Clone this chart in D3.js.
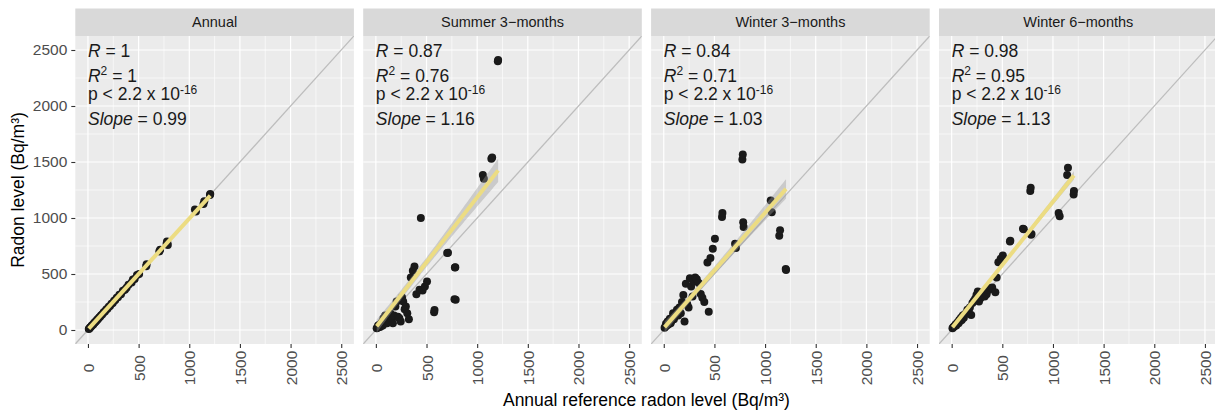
<!DOCTYPE html>
<html>
<head>
<meta charset="utf-8">
<script src="https://cdn.jsdelivr.net/npm/d3@7"></script>
<style>
  html, body { margin: 0; padding: 0; background: #ffffff; }
  svg { display: block; font-family: "Liberation Sans", Arial, sans-serif; }
</style>
</head>
<body>
<svg id="chart" width="1215" height="412"></svg>
<script>
// Annual reference radon level per dwelling (Bq/m³)
const annualRef = [8, 15, 22, 30, 38, 45, 52, 60, 68, 75, 84, 92, 100, 110, 120, 130, 142, 155, 168, 180,
  193, 205, 218, 232, 245, 258, 270, 284, 296, 310, 326, 345, 365, 381, 400, 431, 444, 461, 484, 505,
  575, 579, 704, 712, 776, 780, 784, 788, 1056, 1066, 1140, 1148, 1204, 1207];

// Measured radon level for each measurement period (same dwelling order)
const annualLevel = [10, 14, 24, 28, 40, 44, 50, 62, 66, 76, 82, 94, 98, 112, 118, 132, 140, 158, 165, 182,
  190, 208, 215, 235, 242, 262, 268, 288, 292, 315, 320, 350, 360, 378, 405, 425, 450, 455, 490, 500,
  570, 588, 702, 717, 770, 791, 777, 760, 1075, 1058, 1125, 1150, 1205, 1215];
const summer3Level = [15, 20, 40, 25, 50, 30, 55, 70, 40, 105, 75, 130, 90, 60, 110, 75, 150, 100, 60, 130,
  210, 254, 119, 105, 75, 293, 254, 185, 209, 150, 96, 469, 528, 567, 320, 360, 1000, 352, 388, 433,
  158, 179, 687, 690, 275, 558, 560, 270, 1383, 1350, 1530, 1540, 2400, 2410];
const winter3Level = [20, 30, 55, 40, 75, 50, 70, 100, 60, 80, 110, 150, 95, 120, 140, 180, 130, 200, 150, 250,
  313, 75, 412, 230, 200, 463, 388, 300, 433, 469, 454, 420, 322, 288, 250, 603, 164, 642, 726, 815,
  1010, 1045, 770, 732, 1523, 1568, 961, 920, 1156, 1051, 842, 890, 545, 535];
const winter6Level = [15, 25, 30, 35, 50, 40, 60, 70, 60, 90, 80, 110, 90, 130, 110, 140, 150, 180, 170, 200,
  134, 240, 260, 280, 313, 343, 254, 284, 300, 330, 300, 320, 358, 376, 380, 338, 469, 606, 636, 666,
  790, 797, 905, 900, 1240, 1270, 851, 858, 1045, 1015, 1383, 1449, 1210, 1240];

// Facet titles and fitted statistics
const periods = ["Annual", "Summer 3\u2212months", "Winter 3\u2212months", "Winter 6\u2212months"];
const levels = [annualLevel, summer3Level, winter3Level, winter6Level];
const rValues = ["1", "0.87", "0.84", "0.98"];
const r2Values = ["1", "0.76", "0.71", "0.95"];
const slopes = [0.99, 1.16, 1.03, 1.13];
const intercepts = [5, 25, 17, 16];

// Axis ticks
const tickValues = [0, 500, 1000, 1500, 2000, 2500];
const minorTicks = [250, 750, 1250, 1750, 2250];

const svg = d3.select("#chart");

const panelLeft = 75.3, panelStep = 287.9, panelW = 278.6;
const stripTop = 8.5, stripH = 27.5, panelTop = 36, panelH = 308;

const x = d3.scaleLinear().domain([-125, 2625]).range([0, panelW]);
const y = d3.scaleLinear().domain([-125, 2625]).range([panelH, 0]);

const defs = svg.append("defs");
defs.append("clipPath").attr("id", "panel-clip")
  .append("rect").attr("width", panelW).attr("height", panelH);

periods.forEach((title, i) => {
  const left = panelLeft + i * panelStep;
  const yVals = levels[i];
  const pts = annualRef.map((v, k) => [v, yVals[k]]);

  // strip
  const strip = svg.append("g").attr("transform", `translate(${left},${stripTop})`);
  strip.append("rect").attr("width", panelW).attr("height", stripH).attr("fill", "#D9D9D9");
  strip.append("text")
    .attr("x", panelW / 2).attr("y", stripH / 2)
    .attr("text-anchor", "middle").attr("dominant-baseline", "central")
    .attr("font-size", 14.5).attr("fill", "#1A1A1A")
    .text(title);

  const g = svg.append("g").attr("transform", `translate(${left},${panelTop})`);
  g.append("rect").attr("width", panelW).attr("height", panelH).attr("fill", "#EBEBEB");

  // grid
  minorTicks.forEach(t => {
    g.append("line").attr("x1", x(t)).attr("x2", x(t)).attr("y1", 0).attr("y2", panelH)
      .attr("stroke", "#FFFFFF").attr("stroke-width", 0.6);
    g.append("line").attr("y1", y(t)).attr("y2", y(t)).attr("x1", 0).attr("x2", panelW)
      .attr("stroke", "#FFFFFF").attr("stroke-width", 0.6);
  });
  tickValues.forEach(t => {
    g.append("line").attr("x1", x(t)).attr("x2", x(t)).attr("y1", 0).attr("y2", panelH)
      .attr("stroke", "#FFFFFF").attr("stroke-width", 1.2);
    g.append("line").attr("y1", y(t)).attr("y2", y(t)).attr("x1", 0).attr("x2", panelW)
      .attr("stroke", "#FFFFFF").attr("stroke-width", 1.2);
  });

  const inner = g.append("g").attr("clip-path", "url(#panel-clip)");

  // 1:1 reference line
  inner.append("line")
    .attr("x1", x(-125)).attr("y1", y(-125)).attr("x2", x(2625)).attr("y2", y(2625))
    .attr("stroke", "#BDBDBD").attr("stroke-width", 1.3);

  // observations
  inner.selectAll("circle.obs").data(pts).join("circle")
    .attr("class", "obs")
    .attr("cx", d => x(d[0])).attr("cy", d => y(d[1])).attr("r", 4)
    .attr("fill", "#1A1A1A");

  // linear fit with standard-error band
  const b = slopes[i], a = intercepts[i];
  const n = pts.length;
  const xMean = d3.mean(annualRef);
  const sxx = d3.sum(annualRef, v => (v - xMean) ** 2);
  const s = Math.sqrt(d3.sum(pts, d => (d[1] - (a + b * d[0])) ** 2) / (n - 2));
  const xMin = d3.min(annualRef), xMax = d3.max(annualRef);
  const grid = d3.range(0, 81).map(k => xMin + (xMax - xMin) * k / 80);
  const band = grid.map(v => {
    const fit = a + b * v;
    const se = s * Math.sqrt(1 / n + (v - xMean) ** 2 / sxx);
    return { v, lo: fit - se, hi: fit + se };
  });
  inner.append("path").datum(band)
    .attr("d", d3.area().x(d => x(d.v)).y0(d => y(d.lo)).y1(d => y(d.hi)))
    .attr("fill", "#999999").attr("fill-opacity", 0.4);
  inner.append("line")
    .attr("x1", x(xMin)).attr("y1", y(a + b * xMin))
    .attr("x2", x(xMax)).attr("y2", y(a + b * xMax))
    .attr("stroke", "#ECDC82").attr("stroke-width", 4).attr("stroke-linecap", "butt");

  // statistics text
  const tx = x(0);
  const txt = g.append("g").attr("font-size", 17.5).attr("fill", "#1A1A1A");
  const l1 = txt.append("text").attr("x", tx).attr("y", 57 - panelTop);
  l1.append("tspan").attr("font-style", "italic").text("R");
  l1.append("tspan").text(" = " + rValues[i]);

  const l2 = txt.append("text").attr("x", tx).attr("y", 82 - panelTop);
  l2.append("tspan").attr("font-style", "italic").text("R");
  l2.append("tspan").attr("font-size", 12).attr("dy", -7).text("2");
  l2.append("tspan").attr("dy", 7).text(" = " + r2Values[i]);

  const l3 = txt.append("text").attr("x", tx).attr("y", 100 - panelTop);
  l3.append("tspan").text("p < 2.2 x 10");
  l3.append("tspan").attr("font-size", 12).attr("dy", -6.5).text("-16");

  const l4 = txt.append("text").attr("x", tx).attr("y", 124.5 - panelTop);
  l4.append("tspan").attr("font-style", "italic").text("Slope");
  l4.append("tspan").text(" = " + slopes[i].toFixed(2));

  // x axis
  const xAxis = d3.axisBottom(x).tickValues(tickValues).tickSize(4).tickPadding(0).tickFormat(d3.format("d"));
  const xa = svg.append("g").attr("transform", `translate(${left},${panelTop + panelH})`).call(xAxis);
  xa.select(".domain").remove();
  xa.selectAll(".tick line").attr("stroke", "#333333").attr("stroke-width", 1.1);
  xa.selectAll(".tick text")
    .attr("transform", "translate(0,24) rotate(-90)")
    .attr("x", 0).attr("y", 0).attr("dy", null)
    .attr("text-anchor", "middle").attr("dominant-baseline", "central")
    .attr("font-size", 15.5).attr("fill", "#4D4D4D")
    .attr("font-family", "'Liberation Sans', Arial, sans-serif");
});

// y axis on the first panel
const yAxis = d3.axisLeft(y).tickValues(tickValues).tickSize(4).tickPadding(4).tickFormat(d3.format("d"));
const ya = svg.append("g").attr("transform", `translate(${panelLeft},${panelTop})`).call(yAxis);
ya.select(".domain").remove();
ya.selectAll(".tick line").attr("stroke", "#333333").attr("stroke-width", 1.1);
ya.selectAll(".tick text").attr("font-size", 15.5).attr("fill", "#4D4D4D")
  .attr("font-family", "'Liberation Sans', Arial, sans-serif");

// axis titles
svg.append("text")
  .attr("transform", `translate(18,${panelTop + panelH / 2}) rotate(-90)`)
  .attr("text-anchor", "middle").attr("dominant-baseline", "central")
  .attr("font-size", 17.5).attr("fill", "#000000")
  .text("Radon level (Bq/m\u00B3)");
svg.append("text")
  .attr("x", panelLeft + (3 * panelStep + panelW) / 2).attr("y", 406)
  .attr("text-anchor", "middle")
  .attr("font-size", 17.5).attr("fill", "#000000")
  .text("Annual reference radon level (Bq/m\u00B3)");
</script>
</body>
</html>
